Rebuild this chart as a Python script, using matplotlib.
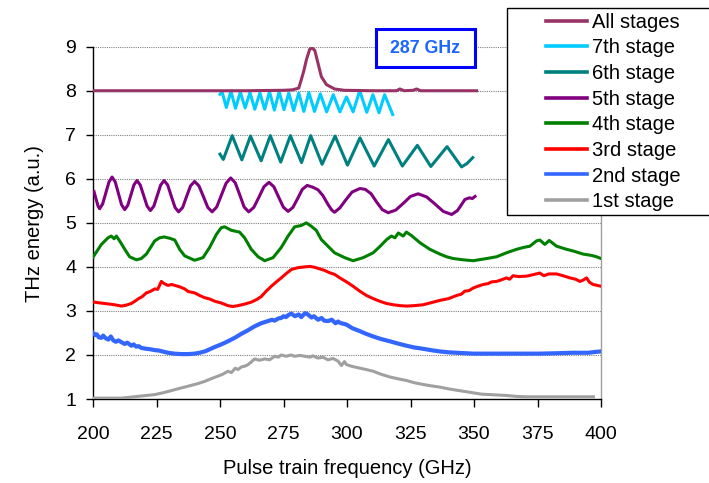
import matplotlib
matplotlib.use("Agg")
import matplotlib.pyplot as plt
from matplotlib.patches import Rectangle
from matplotlib.lines import Line2D

plt.rcParams['font.family'] = ['Liberation Sans', 'DejaVu Sans']

# ---------------- data ----------------
all_x = [200, 260, 275, 278.5, 281, 282, 283, 284, 285.3, 286.2, 287.3, 288.6, 289.9,
         291.9, 295.1, 299, 310, 319.5, 320.8, 322.5, 326, 327.4, 329, 340, 351]
all_y = [8.0, 8.0, 8.01, 8.02, 8.06, 8.25, 8.45, 8.70, 8.94, 8.97, 8.92, 8.62, 8.32,
         8.14, 8.04, 8.01, 8.0, 8.0, 8.04, 8.0, 8.01, 8.04, 8.0, 8.0, 8.0]

s7_x = [250.0, 250.8, 252.5, 254.3, 256.1, 258.0, 259.9, 261.8, 263.7, 265.7, 267.6,
        269.5, 271.4, 273.3, 275.2, 277.1, 279.0, 281.0, 283.0, 285.0, 287.2, 289.5,
        292.0, 294.6, 297.2, 299.8, 302.4, 305.0, 307.8, 310.2, 312.6, 314.8, 318.0]
s7_y = [7.92, 7.98, 7.62, 7.99, 7.60, 7.97, 7.61, 7.96, 7.58, 7.95, 7.58,
        7.98, 7.56, 7.98, 7.57, 7.95, 7.55, 7.95, 7.53, 7.96, 7.53, 7.93,
        7.52, 7.91, 7.52, 7.86, 7.52, 8.0, 7.51, 7.91, 7.50, 7.91, 7.46]

s6_x = [250.0, 251.3, 254.8, 258.6, 262.0, 266.2, 269.8, 273.9, 277.7, 282.1, 285.7,
        290.2, 295.3, 300.2, 305.1, 310.7, 316.3, 321.8, 327.7, 333.0, 339.4, 345.1,
        347.3, 349.5]
s6_y = [6.56, 6.44, 6.98, 6.43, 6.97, 6.41, 6.98, 6.38, 6.98, 6.37, 6.98,
        6.33, 6.97, 6.31, 6.93, 6.29, 6.89, 6.29, 6.76, 6.28, 6.73, 6.27,
        6.35, 6.48]

s5_x = [200.4, 201.3, 202.0, 202.6, 203.8, 205.05, 206.3, 207.5, 208.75, 210.0, 211.25,
        212.5, 213.7, 214.9, 216.1, 217.3, 218.6, 219.95, 221.3, 222.6, 223.95, 225.3,
        226.65, 228.0, 229.4, 230.85, 232.3, 233.7, 235.3, 236.85, 238.4, 240.0, 241.7,
        243.45, 245.2, 246.9, 248.7, 250.55, 252.4, 254.2, 256.0, 257.75, 259.5, 261.3,
        263.3, 265.3, 267.3, 269.3, 271.2, 273.05, 274.9, 276.8, 278.7, 280.55, 282.4,
        284.3, 286.5, 288.6, 290.5, 292.5, 294.0, 295.1, 297.2, 299.5, 302.0, 305.1,
        307.2, 309.5, 311.7, 313.9, 316.2, 319.2, 322.1, 325.0, 328.0, 331.3, 334.6,
        337.9, 341.2, 343.5, 345.5, 346.4, 348.3, 349.3, 350.4]
s5_y = [5.71, 5.52, 5.38, 5.32, 5.43, 5.68, 5.93, 6.04, 5.93, 5.67, 5.41,
        5.30, 5.40, 5.63, 5.86, 5.96, 5.86, 5.62, 5.38, 5.28, 5.38, 5.62,
        5.86, 5.96, 5.86, 5.60, 5.35, 5.25, 5.35, 5.60, 5.84, 5.94, 5.84,
        5.60, 5.35, 5.25, 5.36, 5.63, 5.90, 6.02, 5.91, 5.64, 5.36, 5.25,
        5.35, 5.58, 5.82, 5.92, 5.82, 5.59, 5.36, 5.26, 5.35, 5.55, 5.76,
        5.85, 5.81, 5.75, 5.62, 5.42, 5.29, 5.24, 5.34, 5.52, 5.70, 5.78,
        5.76, 5.66, 5.47, 5.30, 5.23, 5.29, 5.44, 5.60, 5.66, 5.59, 5.43,
        5.26, 5.19, 5.28, 5.45, 5.53, 5.57, 5.55, 5.60]

s4_x = [200.1, 203.3, 205.9, 207.2, 208.3, 209.2, 210.5, 212.5, 214.4, 217.1, 219.0,
        221.0, 224.3, 226.2, 228.0, 230.2, 232.2, 234.1, 236.1, 240.0, 243.3, 245.9,
        248.6, 250.5, 251.8, 254.5, 257.7, 259.7, 262.3, 265.0, 267.6, 270.9, 274.1,
        276.8, 279.4, 282.0, 284.0, 286.0, 287.9, 289.9, 292.5, 295.1, 299.1, 302.4,
        306.4, 310.3, 312.9, 315.6, 317.5, 318.9, 320.2, 322.1, 323.4, 325.4, 328.7,
        332.6, 336.6, 339.2, 341.8, 345.8, 349.7, 355.0, 358.9, 362.8, 366.8, 369.4,
        372.0, 374.6, 375.9, 377.9, 379.6, 382.5, 386.4, 389.1, 393.0, 396.3, 398.2,
        400.0]
s4_y = [4.23, 4.51, 4.66, 4.70, 4.64, 4.70, 4.59, 4.40, 4.23, 4.16, 4.19,
        4.29, 4.59, 4.66, 4.68, 4.65, 4.61, 4.40, 4.25, 4.15, 4.21, 4.44,
        4.74, 4.89, 4.91, 4.83, 4.79, 4.66, 4.40, 4.23, 4.14, 4.21, 4.44,
        4.70, 4.91, 4.94, 5.00, 4.92, 4.83, 4.62, 4.47, 4.32, 4.21, 4.14,
        4.21, 4.32, 4.46, 4.62, 4.70, 4.66, 4.77, 4.70, 4.79, 4.71, 4.55,
        4.40, 4.29, 4.23, 4.19, 4.16, 4.14, 4.19, 4.23, 4.32, 4.40, 4.44,
        4.47, 4.59, 4.61, 4.51, 4.60, 4.47, 4.40, 4.36, 4.29, 4.26, 4.23,
        4.19]

s3_x = [200.4, 203.0, 205.9, 208.5, 211.2, 213.0, 215.1, 216.5, 217.7, 219.5, 221.0,
        222.5, 224.3, 225.5, 226.9, 228.0, 229.5, 231.0, 232.2, 234.0, 236.1, 237.5,
        240.0, 242.0, 244.0, 246.0, 247.9, 250.5, 253.1, 255.0, 257.1, 260.0, 262.3,
        264.5, 266.3, 268.2, 270.2, 272.2, 274.1, 276.1, 278.1, 280.5, 283.3, 285.5,
        287.3, 289.5, 291.2, 293.0, 295.1, 297.2, 299.8, 302.4, 305.0, 307.7, 310.3,
        312.9, 315.5, 318.2, 320.8, 323.4, 326.5, 330.0, 333.3, 336.6, 340.0, 343.1,
        345.0, 346.4, 348.0, 349.7, 351.5, 353.6, 355.5, 357.0, 358.9, 360.5, 362.8,
        364.0, 365.4, 367.5, 370.7, 373.0, 375.9, 377.5, 379.5, 382.5, 385.0, 387.8,
        390.0, 391.7, 393.0, 394.3, 395.5, 396.9, 398.5, 400.0]
s3_y = [3.20, 3.18, 3.16, 3.14, 3.11, 3.13, 3.17, 3.22, 3.27, 3.33, 3.41,
        3.44, 3.50, 3.49, 3.67, 3.62, 3.58, 3.60, 3.58, 3.55, 3.50, 3.44,
        3.41, 3.35, 3.30, 3.27, 3.22, 3.18, 3.12, 3.10, 3.12, 3.16, 3.20,
        3.26, 3.33, 3.45, 3.56, 3.66, 3.75, 3.85, 3.94, 3.98, 4.00, 4.01,
        3.99, 3.95, 3.92, 3.87, 3.83, 3.75, 3.66, 3.56, 3.45, 3.35, 3.28,
        3.22, 3.17, 3.14, 3.12, 3.11, 3.12, 3.14, 3.19, 3.24, 3.28, 3.35,
        3.38, 3.45, 3.46, 3.52, 3.56, 3.60, 3.62, 3.66, 3.67, 3.70, 3.75,
        3.72, 3.80, 3.78, 3.79, 3.82, 3.86, 3.80, 3.84, 3.84, 3.80, 3.75,
        3.72, 3.67, 3.70, 3.75, 3.65, 3.60, 3.58, 3.56]

s2_x = [200.0, 200.8, 201.5, 202.3, 203.3, 204.0, 205.0, 206.0, 207.0, 208.0, 209.0,
        210.0, 211.2, 212.5, 213.5, 215.1, 216.0, 217.0, 218.0, 219.0, 221.0, 222.5,
        224.3, 226.0, 228.0, 229.5, 232.0, 234.8, 237.5, 240.0, 242.0, 244.0, 246.0,
        247.9, 250.5, 253.1, 255.8, 258.4, 261.0, 263.6, 266.2, 268.9, 270.5, 271.5,
        273.0, 274.1, 275.0, 276.0, 277.0, 278.1, 279.5, 281.0, 282.0, 283.5, 284.6,
        286.0, 287.0, 288.6, 290.0, 291.0, 292.5, 294.0, 295.5, 296.5, 297.2, 299.8,
        302.0, 305.1, 307.5, 310.3, 313.5, 316.9, 320.0, 323.4, 326.5, 330.0, 333.0,
        336.6, 340.0, 343.1, 346.5, 349.7, 356.0, 362.8, 369.0, 376.0, 383.0, 389.0,
        395.0, 398.0, 400.0]
s2_y = [2.50, 2.45, 2.47, 2.40, 2.39, 2.44, 2.38, 2.35, 2.42, 2.33, 2.30,
        2.33, 2.29, 2.25, 2.28, 2.21, 2.24, 2.19, 2.20, 2.16, 2.14, 2.13,
        2.11, 2.10, 2.07, 2.05, 2.03, 2.02, 2.02, 2.03, 2.05, 2.08, 2.13,
        2.18, 2.24, 2.31, 2.39, 2.48, 2.56, 2.65, 2.72, 2.77, 2.80, 2.78,
        2.83, 2.84, 2.88, 2.86, 2.91, 2.94, 2.88, 2.92, 2.86, 2.95, 2.92,
        2.85, 2.88, 2.80, 2.84, 2.78, 2.77, 2.80, 2.72, 2.76, 2.73, 2.69,
        2.61, 2.54, 2.48, 2.42, 2.36, 2.31, 2.26, 2.21, 2.17, 2.14, 2.11,
        2.08, 2.06, 2.05, 2.04, 2.03, 2.03, 2.03, 2.03, 2.03, 2.04, 2.05,
        2.05, 2.07, 2.08]

s1_x = [200.0, 205.0, 211.2, 214.5, 217.7, 221.0, 224.3, 227.5, 230.8, 234.0, 237.4,
        240.7, 244.0, 246.5, 249.2, 251.0, 253.1, 254.5, 256.0, 257.1, 258.5, 260.0,
        261.0, 262.3, 263.6, 265.5, 267.6, 269.5, 271.5, 273.0, 274.1, 276.0, 278.0,
        279.4, 281.5, 283.3, 285.5, 286.5, 288.6, 290.5, 292.5, 294.5, 296.5, 297.8,
        299.0, 299.8, 302.0, 305.1, 307.5, 310.3, 313.5, 316.9, 320.0, 323.4, 326.5,
        330.0, 333.0, 336.6, 340.0, 343.1, 346.5, 349.7, 353.0, 356.3, 359.5, 362.8,
        366.5, 370.7, 376.0, 382.5, 390.0, 397.0]
s1_y = [1.02, 1.02, 1.02, 1.04, 1.06, 1.08, 1.10, 1.14, 1.19, 1.24, 1.29,
        1.34, 1.40, 1.46, 1.52, 1.56, 1.63, 1.60, 1.70, 1.67, 1.73, 1.75,
        1.78, 1.84, 1.91, 1.88, 1.91, 1.89, 1.97, 1.95, 2.00, 1.97, 2.00,
        1.97, 1.99, 1.97, 1.95, 1.98, 1.93, 1.95, 1.89, 1.92, 1.86, 1.76,
        1.85, 1.78, 1.74, 1.70, 1.67, 1.63, 1.56, 1.50, 1.46, 1.42, 1.37,
        1.33, 1.30, 1.27, 1.23, 1.20, 1.17, 1.14, 1.11, 1.10, 1.09, 1.08,
        1.06, 1.05, 1.05, 1.05, 1.05, 1.05]

labels = ["All stages", "7th stage", "6th stage", "5th stage",
          "4th stage", "3rd stage", "2nd stage", "1st stage"]
colors = ["#993366", "#00CCFF", "#008080", "#800080",
          "#008000", "#FF0000", "#3366FF", "#A0A0A0"]
xticks = [200, 225, 250, 275, 300, 325, 350, 375, 400]
yticks = [1, 2, 3, 4, 5, 6, 7, 8, 9]
annot_text = "287 GHz"

# ---------------- figure ----------------
W, H = 709, 483
fig = plt.figure(figsize=(W / 100, H / 100), dpi=100)
ax = fig.add_axes([93 / W, 1 - 399 / H, (601 - 93) / W, (399 - 46.7) / H])

series = [(s1_x, s1_y, 7), (s2_x, s2_y, 6), (s3_x, s3_y, 5), (s4_x, s4_y, 4),
          (s5_x, s5_y, 3), (s6_x, s6_y, 2), (s7_x, s7_y, 1), (all_x, all_y, 0)]
for xs, ys, i in series:
    lw = 3.0 if i == 6 else 2.2
    ax.plot(xs, ys, color=colors[i], lw=lw, solid_joinstyle='round', zorder=3)

ax.set_xlim(200, 400)
ax.set_ylim(1, 9)
ax.set_xticks(xticks)
ax.set_yticks(yticks)
ax.tick_params(axis='x', direction='out', length=6, width=1, pad=13.5, labelsize=14)
ax.tick_params(axis='y', direction='out', length=5, width=1, pad=7, labelsize=14)
for yv in yticks[1:]:
    ax.axhline(yv, color='#808080', lw=0.8, ls=(0, (1, 1)), zorder=1)

ax.spines['top'].set_visible(False)
ax.spines['right'].set_color('#A0A0A0')
ax.spines['right'].set_linewidth(1.0)
ax.spines['left'].set_linewidth(1.0)
ax.spines['bottom'].set_linewidth(1.0)

# annotation box
ax.add_patch(Rectangle((311.6, 8.55), 38.8, 0.85, facecolor='white', edgecolor='#0000FF',
                       lw=2.2, clip_on=False, zorder=6))
ax.text(330.8, 8.965, annot_text, color='#1A66FF', fontsize=12.8, fontweight='bold',
        ha='center', va='center', zorder=7)

# axis labels
fig.text(347 / W, 1 - 468 / H, "Pulse train frequency (GHz)", fontsize=14.5,
         ha='center', va='center')
fig.text(35 / W, 1 - 224 / H, "THz energy (a.u.)", fontsize=14.5, rotation=90,
         ha='center', va='center')

# legend frame (extends past right edge of figure)
fig.add_artist(Rectangle((507 / W, 1 - 215 / H), 1.0, (215 - 8) / H,
                         transform=fig.transFigure, facecolor='white',
                         edgecolor='black', lw=1.0, zorder=4))
handles = [Line2D([0], [0], color=c, lw=2.6) for c in colors]
leg = fig.legend(handles, labels, loc='center left',
                 bbox_to_anchor=(545.7 / W, 1 - 111.9 / H),
                 frameon=False, fontsize=14.5, handlelength=2.07,
                 handletextpad=0.22, labelspacing=0.33, borderpad=0,
                 borderaxespad=0)
leg.set_zorder(5)

fig.savefig("out.png", dpi=100)
